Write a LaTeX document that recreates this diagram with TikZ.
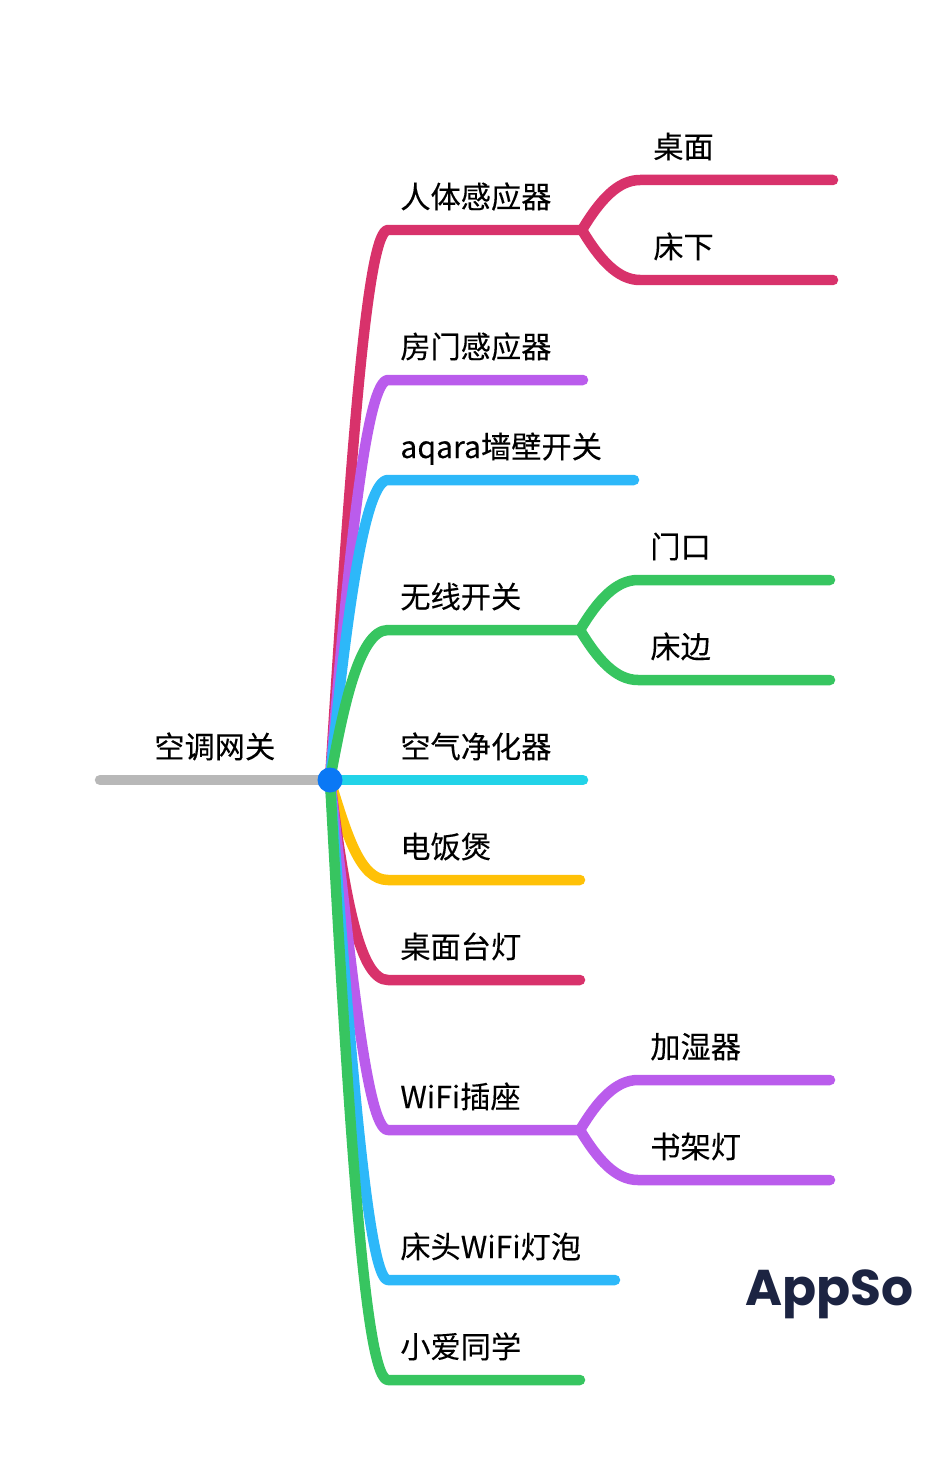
\documentclass[tikz,border=0pt]{standalone}
\usepackage{fontspec}
\setmainfont[FakeBold=0.2]{Noto Sans CJK SC}
\newfontfamily\logofont{Poppins}
\usetikzlibrary{calc}
\definecolor{rosered}{RGB}{216, 50, 107}
\definecolor{violet}{RGB}{186, 92, 236}
\definecolor{skyblue}{RGB}{45, 184, 249}
\definecolor{leafgreen}{RGB}{55, 197, 96}
\definecolor{aqua}{RGB}{34, 211, 232}
\definecolor{amber}{RGB}{255, 193, 7}
\definecolor{rootgray}{RGB}{184, 184, 184}
\definecolor{hubblue}{RGB}{10, 120, 245}
\definecolor{logonavy}{RGB}{28, 36, 66}

\begin{document}
\begin{tikzpicture}[
    x=0.02cm, y=-0.02cm,
    topic/.style={anchor=base west, inner sep=0pt, text=black, font=\fontsize{17.2}{20}\selectfont},
    twig/.style={line width=0.21cm, line cap=round, line join=round},
    hub/.style={circle, fill=hubblue, minimum size=0.5cm, inner sep=0pt}
]
\useasboundingbox (0,0) rectangle (933,1480);

% Root
\coordinate (hubc) at (330,780);
\coordinate (rootend) at (100,780);
\draw[twig, rootgray] (rootend) -- (hubc);
\node[topic] (root) at (154,758) {空调网关};

% Upper branches
\coordinate (sensorb) at (388,230);
\coordinate (sensore) at (582,230);
\coordinate (desktope) at (833,180);
\coordinate (bede) at (833,280);
\draw[twig, rosered] (hubc) .. controls (352,430) and (368,230) .. (sensorb) -- (sensore);
\draw[twig, rosered] (sensore) .. controls (600,200) and (618,180) .. (640,180) -- (desktope);
\draw[twig, rosered] (sensore) .. controls (600,260) and (618,280) .. (640,280) -- (bede);
\node[topic] (sensor) at (400,208) {人体感应器};
\node[topic] (desktop) at (653,158) {桌面};
\node[topic] (bed) at (653,258) {床下};

\coordinate (doorb) at (388,380);
\coordinate (doore) at (583,380);
\draw[twig, violet] (hubc) .. controls (350,530) and (368,380) .. (doorb) -- (doore);
\node[topic] (door) at (400,358) {房门感应器};

\coordinate (aqarab) at (388,480);
\coordinate (aqarae) at (634,480);
\draw[twig, skyblue] (hubc) .. controls (347,610) and (365,480) .. (aqarab) -- (aqarae);
\node[topic] (aqara) at (400,458) {aqara墙壁开关};

\coordinate (switchb) at (388,630);
\coordinate (switche) at (580,630);
\coordinate (gatee) at (830,580);
\coordinate (sidee) at (830,680);
\draw[twig, leafgreen] (hubc) .. controls (342,715) and (358,630) .. (switchb) -- (switche);
\draw[twig, leafgreen] (switche) .. controls (598,600) and (616,580) .. (638,580) -- (gatee);
\draw[twig, leafgreen] (switche) .. controls (598,660) and (616,680) .. (638,680) -- (sidee);
\node[topic] (switch) at (400,608) {无线开关};
\node[topic] (gate) at (650,558) {门口};
\node[topic] (side) at (650,658) {床边};

\coordinate (aire) at (583,780);
\draw[twig, aqua] (hubc) -- (aire);
\node[topic] (air) at (400,758) {空气净化器};

% Lower branches
\coordinate (riceb) at (388,880);
\coordinate (ricee) at (580,880);
\draw[twig, amber] (hubc) .. controls (347,835) and (360,880) .. (riceb) -- (ricee);
\node[topic] (rice) at (400,858) {电饭煲};

\coordinate (lampb) at (388,980);
\coordinate (lampe) at (580,980);
\draw[twig, rosered] (hubc) .. controls (345,900) and (360,980) .. (lampb) -- (lampe);
\node[topic] (lamp) at (400,958) {桌面台灯};

\coordinate (plugb) at (388,1130);
\coordinate (pluge) at (580,1130);
\coordinate (wete) at (830,1080);
\coordinate (shelfe) at (830,1180);
\draw[twig, violet] (hubc) .. controls (350,950) and (366,1130) .. (plugb) -- (pluge);
\draw[twig, violet] (pluge) .. controls (598,1100) and (616,1080) .. (638,1080) -- (wete);
\draw[twig, violet] (pluge) .. controls (598,1160) and (616,1180) .. (638,1180) -- (shelfe);
\node[topic] (plug) at (400,1108) {WiFi插座};
\node[topic] (wet) at (650,1058) {加湿器};
\node[topic] (shelf) at (650,1158) {书架灯};

\coordinate (bulbb) at (388,1280);
\coordinate (bulbe) at (615,1280);
\draw[twig, skyblue] (hubc) .. controls (350,1050) and (368,1280) .. (bulbb) -- (bulbe);
\node[topic] (bulb) at (400,1258) {床头WiFi灯泡};

\coordinate (xiaob) at (388,1380);
\coordinate (xiaoe) at (580,1380);
\draw[twig, leafgreen] (hubc) .. controls (350,1150) and (366,1380) .. (xiaob) -- (xiaoe);
\node[topic] (xiao) at (400,1358) {小爱同学};

% Centre dot
\node[hub] (hubdot) at (hubc) {};

% Logo
\node[anchor=base west, inner sep=0pt, text=logonavy, font=\logofont\bfseries\fontsize{28.6}{32}\selectfont] (logo) at (745,1305) {AppSo};

\end{tikzpicture}
\end{document}
